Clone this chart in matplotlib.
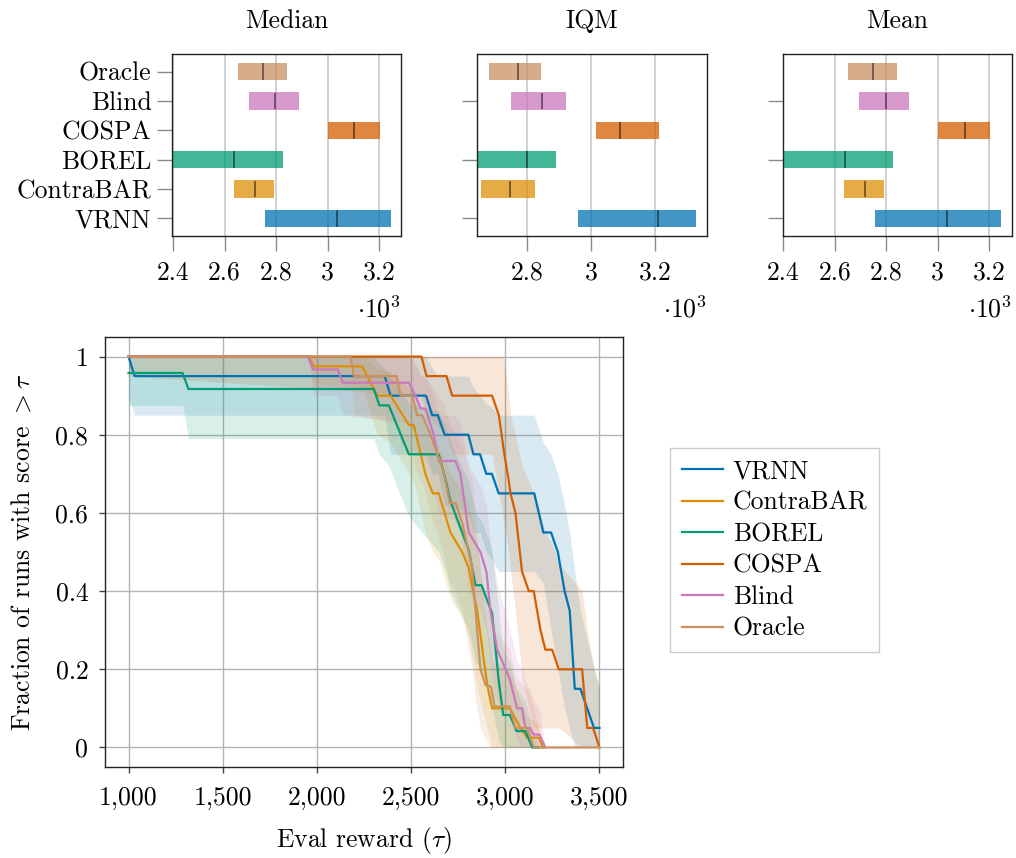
import matplotlib
matplotlib.use("Agg")
import matplotlib.pyplot as plt

plt.rcParams["font.family"] = ["cmr10", "DejaVu Serif"]
plt.rcParams["mathtext.fontset"] = "cm"
plt.rcParams["axes.formatter.use_mathtext"] = True
plt.rcParams["font.size"] = 18.5

# ---- top panels (values in 10^3) ----
methods = ["VRNN", "ContraBAR", "BOREL", "COSPA", "Blind", "Oracle"]
colors = ["#0173b2", "#de8f05", "#029e73", "#d55e00", "#cc78bc", "#ca9161"]

median_lo = [2.757, 2.637, 2.39, 3.000, 2.695, 2.651]
median_mid = [3.036, 2.717, 2.638, 3.104, 2.797, 2.751]
median_hi = [3.245, 2.792, 2.827, 3.204, 2.888, 2.842]

iqm_lo = [2.959, 2.656, 2.64, 3.016, 2.750, 2.681]
iqm_mid = [3.208, 2.747, 2.801, 3.090, 2.846, 2.772]
iqm_hi = [3.328, 2.825, 2.891, 3.213, 2.922, 2.844]

mean_lo = [2.757, 2.636, 2.39, 3.000, 2.694, 2.651]
mean_mid = [3.036, 2.717, 2.639, 3.106, 2.798, 2.750]
mean_hi = [3.247, 2.792, 2.826, 3.204, 2.889, 2.842]

# ---- bottom panel: score distributions ----
vrnn_x = [1000, 1032, 2360, 2391, 2579, 2612, 2642, 2678, 2804, 2831, 2866, 2899, 2929, 2965, 3154, 3202, 3243, 3279, 3315, 3342, 3369, 3399, 3471, 3500]
vrnn_y = [1.0, 0.95, 0.95, 0.90, 0.90, 0.85, 0.85, 0.80, 0.80, 0.75, 0.75, 0.70, 0.70, 0.65, 0.65, 0.55, 0.55, 0.50, 0.40, 0.35, 0.15, 0.15, 0.05, 0.05]
vrnn_lo = [0.90, 0.85, 0.85, 0.75, 0.75, 0.70, 0.70, 0.62, 0.60, 0.55, 0.55, 0.50, 0.48, 0.45, 0.45, 0.42, 0.30, 0.20, 0.10, 0.05, 0.0, 0.0, 0.0, 0.0]
vrnn_hi = [1.0, 1.0, 1.0, 1.0, 1.0, 0.97, 0.95, 0.95, 0.95, 0.92, 0.90, 0.88, 0.87, 0.85, 0.85, 0.78, 0.75, 0.70, 0.62, 0.55, 0.45, 0.35, 0.20, 0.15]

contra_x = [1000, 1957, 1982, 2240, 2320, 2391, 2488, 2514, 2576, 2615, 2647, 2709, 2771, 2806, 2833, 2851, 2904, 2930, 3024, 3081, 3116, 3178, 3200]
contra_y = [1.0, 1.0, 0.975, 0.975, 0.90, 0.90, 0.825, 0.825, 0.70, 0.65, 0.65, 0.55, 0.50, 0.46, 0.39, 0.35, 0.16, 0.10, 0.10, 0.05, 0.025, 0.025, 0.0]
contra_lo = [1.0, 1.0, 0.93, 0.92, 0.80, 0.78, 0.70, 0.68, 0.55, 0.50, 0.48, 0.38, 0.33, 0.28, 0.20, 0.15, 0.05, 0.0, 0.0, 0.0, 0.0, 0.0, 0.0]
contra_hi = [1.0, 1.0, 1.0, 1.0, 0.97, 0.96, 0.92, 0.90, 0.82, 0.78, 0.77, 0.70, 0.66, 0.62, 0.56, 0.52, 0.30, 0.22, 0.20, 0.12, 0.08, 0.06, 0.0]

borel_x = [1000, 1287, 1318, 2302, 2332, 2382, 2488, 2647, 2683, 2709, 2806, 2842, 2874, 2921, 2930, 2965, 2989, 3024, 3060, 3107, 3143, 3180]
borel_y = [0.958, 0.958, 0.917, 0.917, 0.875, 0.875, 0.75, 0.75, 0.685, 0.63, 0.505, 0.415, 0.415, 0.355, 0.343, 0.172, 0.083, 0.083, 0.042, 0.042, 0.0, 0.0]
borel_lo = [0.875, 0.875, 0.79, 0.79, 0.75, 0.72, 0.59, 0.50, 0.45, 0.40, 0.30, 0.22, 0.20, 0.12, 0.10, 0.02, 0.0, 0.0, 0.0, 0.0, 0.0, 0.0]
borel_hi = [1.0, 1.0, 1.0, 1.0, 0.98, 0.96, 0.88, 0.86, 0.82, 0.78, 0.68, 0.60, 0.58, 0.52, 0.50, 0.35, 0.25, 0.22, 0.15, 0.12, 0.05, 0.0]

cospa_x = [1000, 2555, 2582, 2688, 2718, 2930, 2966, 2992, 3019, 3028, 3054, 3089, 3125, 3151, 3187, 3213, 3249, 3284, 3408, 3435, 3466, 3500]
cospa_y = [1.0, 1.0, 0.95, 0.95, 0.90, 0.90, 0.85, 0.76, 0.68, 0.65, 0.60, 0.45, 0.40, 0.40, 0.30, 0.25, 0.25, 0.20, 0.20, 0.05, 0.05, 0.0]
cospa_lo = [0.95, 0.90, 0.85, 0.80, 0.75, 0.75, 0.65, 0.58, 0.50, 0.45, 0.35, 0.18, 0.10, 0.05, 0.05, 0.05, 0.05, 0.05, 0.0, 0.0, 0.0, 0.0]
cospa_hi = [1.0, 1.0, 1.0, 1.0, 1.0, 1.0, 1.0, 1.0, 0.90, 0.85, 0.80, 0.72, 0.68, 0.65, 0.60, 0.55, 0.52, 0.47, 0.40, 0.30, 0.22, 0.15]

blind_x = [1000, 1952, 1980, 2111, 2138, 2488, 2523, 2550, 2576, 2620, 2647, 2736, 2762, 2806, 2868, 2900, 2921, 2957, 3024, 3063, 3089, 3107, 3130, 3150, 3181, 3213]
blind_y = [1.0, 1.0, 0.967, 0.967, 0.933, 0.933, 0.90, 0.867, 0.867, 0.80, 0.733, 0.733, 0.70, 0.55, 0.50, 0.45, 0.35, 0.25, 0.175, 0.10, 0.10, 0.05, 0.05, 0.033, 0.033, 0.0]
blind_lo = [1.0, 1.0, 0.90, 0.90, 0.85, 0.83, 0.80, 0.75, 0.73, 0.65, 0.60, 0.58, 0.55, 0.40, 0.35, 0.30, 0.20, 0.12, 0.08, 0.02, 0.0, 0.0, 0.0, 0.0, 0.0, 0.0]
blind_hi = [1.0, 1.0, 1.0, 1.0, 1.0, 1.0, 0.98, 0.95, 0.95, 0.90, 0.85, 0.85, 0.83, 0.72, 0.67, 0.62, 0.52, 0.42, 0.30, 0.22, 0.20, 0.17, 0.15, 0.12, 0.10, 0.0]

oracle_x = [1000, 2178, 2197, 2423, 2444, 2506, 2532, 2559, 2603, 2670, 2706, 2736, 2771, 2824, 2842, 2868, 2895, 2925, 2943, 3024, 3054, 3116, 3151, 3200, 3500]
oracle_y = [1.0, 1.0, 0.95, 0.95, 0.90, 0.90, 0.85, 0.85, 0.80, 0.71, 0.625, 0.625, 0.575, 0.46, 0.35, 0.20, 0.16, 0.155, 0.105, 0.105, 0.05, 0.05, 0.0, 0.0, 0.0]
oracle_lo = [1.0, 1.0, 0.85, 0.83, 0.78, 0.75, 0.70, 0.68, 0.60, 0.50, 0.42, 0.40, 0.35, 0.20, 0.12, 0.05, 0.02, 0.0, 0.0, 0.0, 0.0, 0.0, 0.0, 0.0, 0.0]
oracle_hi = [1.0, 1.0, 1.0, 1.0, 1.0, 1.0, 0.97, 0.95, 0.93, 0.88, 0.83, 0.80, 0.77, 0.68, 0.60, 0.45, 0.38, 0.35, 0.30, 0.25, 0.18, 0.15, 0.10, 0.0, 0.0]

curves = [
    ("VRNN", vrnn_x, vrnn_y, vrnn_lo, vrnn_hi),
    ("ContraBAR", contra_x, contra_y, contra_lo, contra_hi),
    ("BOREL", borel_x, borel_y, borel_lo, borel_hi),
    ("COSPA", cospa_x, cospa_y, cospa_lo, cospa_hi),
    ("Blind", blind_x, blind_y, blind_lo, blind_hi),
    ("Oracle", oracle_x, oracle_y, oracle_lo, oracle_hi),
]

W, H = 1016, 858
fig = plt.figure(figsize=(W / 100, H / 100), dpi=100)


def px_axes(left, top, right, bottom):
    return fig.add_axes([left / W, 1 - bottom / H, (right - left) / W, (bottom - top) / H])


def interval_panel(ax, lo, mid, hi, title, xlim, ticks, ticklabels, show_names):
    ypos = list(range(len(methods)))
    for i in ypos:
        ax.barh(i, hi[i] - lo[i], left=lo[i], height=0.6, color=colors[i], alpha=0.75, lw=0, zorder=2)
        ax.vlines(mid[i], i - 0.28, i + 0.28, color="black", alpha=0.55, lw=1.2, zorder=3)
    ax.set_xlim(*xlim)
    ax.set_ylim(-0.6, 5.6)
    ax.set_xticks(ticks)
    ax.set_xticklabels(ticklabels)
    if show_names:
        ax.set_yticks(ypos)
        ax.set_yticklabels(methods)
    else:
        ax.set_yticks([0, 2, 4])
        ax.set_yticklabels([])
    ax.grid(axis="x", color="#c8c8c8", lw=1.2, zorder=0)
    ax.set_axisbelow(True)
    ax.tick_params(axis="both", length=11, width=1, color="#8a8a8a", pad=7)
    ax.tick_params(axis="y", pad=4)
    for s in ax.spines.values():
        s.set_color("#222222")
        s.set_linewidth(1.0)
    ax.text(0.5, 1.18, title, transform=ax.transAxes, ha="center", va="center")
    ax.text(1.0, -0.40, r"$\cdot10^{3}$", transform=ax.transAxes, ha="right", va="center")


ax1 = px_axes(172.3, 54, 401, 236)
interval_panel(ax1, median_lo, median_mid, median_hi, "Median", (2.397, 3.285),
               [2.4, 2.6, 2.8, 3.0, 3.2], ["2.4", "2.6", "2.8", "3", "3.2"], True)
ax2 = px_axes(477.3, 54, 707, 236)
interval_panel(ax2, iqm_lo, iqm_mid, iqm_hi, "IQM", (2.645, 3.3625),
               [2.8, 3.0, 3.2], ["2.8", "3", "3.2"], False)
ax3 = px_axes(782.7, 54, 1012.3, 236)
interval_panel(ax3, mean_lo, mean_mid, mean_hi, "Mean", (2.397, 3.29),
               [2.4, 2.6, 2.8, 3.0, 3.2], ["2.4", "2.6", "2.8", "3", "3.2"], False)

# ---- bottom axes ----
ax = px_axes(105, 337, 623, 767)
for (name, x, y, lo, hi), c in zip(curves, colors):
    ax.fill_between(x, lo, hi, color=c, alpha=0.15, lw=0, zorder=1)
for (name, x, y, lo, hi), c in zip(curves, colors):
    ax.plot(x, y, color=c, lw=1.6, label=name, zorder=3)

ax.set_xlim(875, 3625)
ax.set_ylim(-0.05, 1.05)
ax.set_xticks([1000, 1500, 2000, 2500, 3000, 3500])
ax.set_xticklabels(["1,000", "1,500", "2,000", "2,500", "3,000", "3,500"])
ax.set_yticks([0, 0.2, 0.4, 0.6, 0.8, 1.0])
ax.set_yticklabels(["0", "0.2", "0.4", "0.6", "0.8", "1"])
ax.grid(color="#b4b4b4", lw=1.0, zorder=0)
ax.set_axisbelow(True)
ax.tick_params(axis="both", length=4, width=1, color="#444444", pad=8)
ax.tick_params(axis="x", pad=10)
for s in ax.spines.values():
    s.set_color("#222222")
    s.set_linewidth(1.0)
ax.set_xlabel(r"Eval reward ($\tau$)", va="center")
ax.xaxis.set_label_coords(0.5, -0.17)
ax.set_ylabel(r"Fraction of runs with score $>\tau$", va="center")
ax.yaxis.set_label_coords(-0.160, 0.5)

fig.legend(*ax.get_legend_handles_labels(), loc="upper left",
           bbox_to_anchor=(670 / W, 1 - 448 / H), frameon=True, fancybox=False,
           edgecolor="#cccccc", framealpha=1, handlelength=1.6, handletextpad=0.4,
           labelspacing=0.3, borderpad=0.45, borderaxespad=0)

fig.savefig("out.png", dpi=100)
